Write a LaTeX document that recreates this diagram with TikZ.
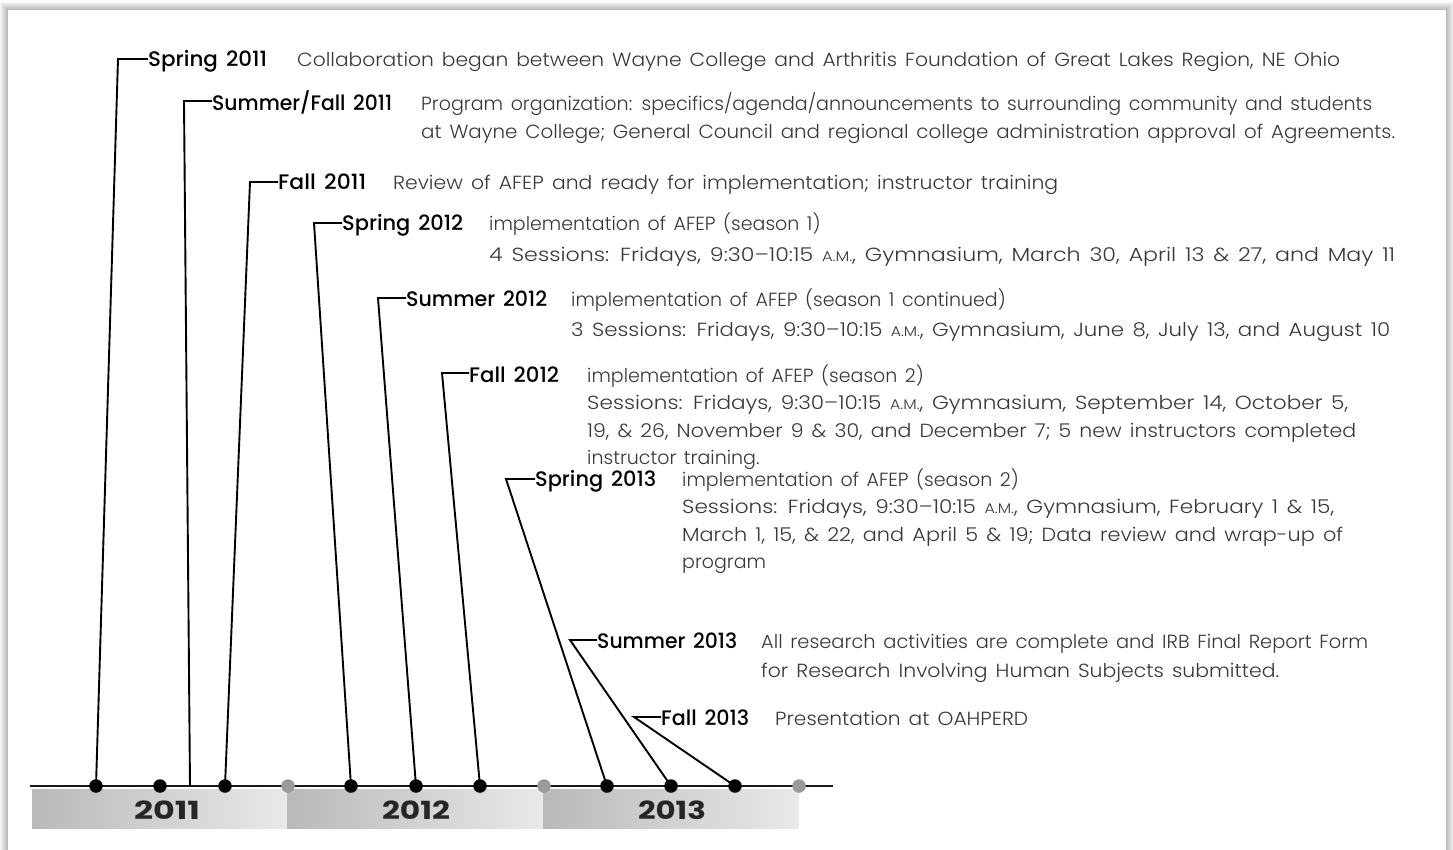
\documentclass[tikz,border=0pt]{standalone}
\usepackage{graphicx}
\usepackage{fontspec}
\setmainfont{Poppins}[UprightFont=* Light, BoldFont=* Medium, WordSpace=1.45, Numbers=Monospaced]
\newfontfamily\yearfamily{Poppins}[UprightFont=* Bold]
\definecolor{txt}{HTML}{383838}
\definecolor{dotgray}{HTML}{9A9A9A}
\definecolor{bandL}{HTML}{B8B9BB}
\definecolor{bandR}{HTML}{E8E9EA}
\newcommand\labfont{\bfseries\fontsize{21}{24}\selectfont}
\newcommand\descfont{\fontsize{19}{28}\selectfont}
\newcommand\am{{\fontsize{14}{14}\selectfont A.M.}}
\newcommand\fit[2]{\resizebox{#1pt}{\height}{#2}}
\begin{document}
\begin{tikzpicture}[x=1pt,y=-1pt,
  lab/.style={anchor=base west, inner sep=0pt, font=\labfont, text=black},
  desc/.style={anchor=base west, inner sep=0pt, font=\descfont, text=txt},
  bdot/.style={circle, fill=black, inner sep=0pt, minimum size=13.5pt},
  gdot/.style={circle, fill=dotgray, inner sep=0pt, minimum size=13.5pt},
  conn/.style={line width=1.9pt, line join=miter, black},
  yearlab/.style={font=\yearfamily\fontsize{25}{28}\selectfont, text=black!85, inner sep=0pt},
  band/.style={left color=bandL, right color=bandR}
]
\useasboundingbox (0,0) rectangle (1453,850);
% shadow frame
\fill[white] (0,0) rectangle (1453,850);
\foreach \i in {1,...,8}{
  \fill[black, opacity=0.035] (8-\i,10-\i) rectangle (1446+\i,870);
}
\fill[white] (8,10) rectangle (1446,870);

% bands
\shade[band] (32,789) rectangle (287,828);
\shade[band] (287,789) rectangle (543,828);
\shade[band] (543,789) rectangle (799,828);
\node[yearlab] (y1) at (167,810) {\fit{66}{2011}};
\node[yearlab] (y2) at (416,810) {\fit{68}{2012}};
\node[yearlab] (y3) at (672,810) {\fit{68}{2013}};

% main line
\coordinate (ls) at (30,786);
\coordinate (le) at (833,786);
\draw[line width=2.4pt, black!90] (ls) -- (le);

% dot positions
\coordinate (p1) at (96,786);
\coordinate (p2) at (160,786);
\coordinate (pSF) at (190,786);
\coordinate (p3) at (225,786);
\coordinate (g1) at (288,786);
\coordinate (p4) at (351,786);
\coordinate (p5) at (416,786);
\coordinate (p6) at (480,786);
\coordinate (g2) at (544,786);
\coordinate (p7) at (607,786);
\coordinate (p8) at (671,786);
\coordinate (p9) at (735,786);
\coordinate (g3) at (799,786);

% corners
\coordinate (c1) at (118,59);
\coordinate (c2) at (184,101);
\coordinate (c3) at (250,182);
\coordinate (c4) at (314,223);
\coordinate (c5) at (378,298);
\coordinate (c6) at (442,373);
\coordinate (c7) at (506,479);
\coordinate (c8) at (570,640);
\coordinate (c9) at (634,717);

% labels and descriptions
\node[lab] (l1) at (148,66.5) {\fit{119}{Spring 2011}};
\node[desc] (t1) at (297,66.5) {\fit{1043}{Collaboration began between Wayne College and Arthritis Foundation of Great Lakes Region, NE Ohio}};

\node[lab] (l2) at (212,110.5) {\fit{180}{Summer/Fall 2011}};
\node[desc] (t2) at (421,110.5) {\begin{tabular}[t]{@{}l@{}}\fit{951}{Program organization: specifics/agenda/announcements to surrounding community and students}\\ \fit{974}{at Wayne College; General Council and regional college administration approval of Agreements.}\end{tabular}};

\node[lab] (l3) at (278,190) {\fit{88}{Fall 2011}};
\node[desc] (t3) at (393,190) {\fit{665}{Review of AFEP and ready for implementation; instructor training}};

\node[lab] (l4) at (342,231) {\fit{121}{Spring 2012}};
\node[desc, font=\fontsize{19}{31}\selectfont] (t4) at (489,231) {\begin{tabular}[t]{@{}l@{}}implementation of AFEP (season 1)\\ \fit{906}{4 Sessions: Fridays, 9:30--10:15 \am, Gymnasium, March 30, April 13 \& 27, and May 11}\end{tabular}};

\node[lab] (l5) at (406,306) {\fit{141}{Summer 2012}};
\node[desc, font=\fontsize{19}{30}\selectfont] (t5) at (571,306) {\begin{tabular}[t]{@{}l@{}}implementation of AFEP (season 1 continued)\\ \fit{819}{3 Sessions: Fridays, 9:30--10:15 \am, Gymnasium, June 8, July 13, and August 10}\end{tabular}};

\node[lab] (l6) at (469,382) {\fit{90}{Fall 2012}};
\node[desc, font=\fontsize{19}{27.5}\selectfont] (t6) at (587,382) {\begin{tabular}[t]{@{}l@{}}implementation of AFEP (season 2)\\ \fit{761}{Sessions: Fridays, 9:30--10:15 \am, Gymnasium, September 14, October 5,}\\ \fit{769}{19, \& 26, November 9 \& 30, and December 7; 5 new instructors completed}\\ instructor training.\end{tabular}};

\node[lab] (l7) at (535,486) {\fit{121}{Spring 2013}};
\node[desc, font=\fontsize{19}{27.5}\selectfont] (t7) at (682,486) {\begin{tabular}[t]{@{}l@{}}implementation of AFEP (season 2)\\ \fit{652}{Sessions: Fridays, 9:30--10:15 \am, Gymnasium, February 1 \& 15,}\\ \fit{661}{March 1, 15, \& 22, and April 5 \& 19; Data review and wrap-up of}\\ program\end{tabular}};

\node[lab] (l8) at (597,648) {\fit{140}{Summer 2013}};
\node[desc, font=\fontsize{19}{29}\selectfont] (t8) at (761,648) {\begin{tabular}[t]{@{}l@{}}\fit{607}{All research activities are complete and IRB Final Report Form}\\ \fit{518}{for Research Involving Human Subjects submitted.}\end{tabular}};

\node[lab] (l9) at (661,725) {\fit{88}{Fall 2013}};
\node[desc] (t9) at (775,725) {\fit{253}{Presentation at OAHPERD}};

% connectors
\draw[conn] (p1) -- (c1) -- (c1 -| l1.west);
\draw[conn] (pSF) -- (c2) -- (c2 -| l2.west);
\draw[conn] (p3) -- (c3) -- (c3 -| l3.west);
\draw[conn] (p4) -- (c4) -- (c4 -| l4.west);
\draw[conn] (p5) -- (c5) -- (c5 -| l5.west);
\draw[conn] (p6) -- (c6) -- (c6 -| l6.west);
\draw[conn] (p7) -- (c7) -- (c7 -| l7.west);
\draw[conn] (p8) -- (c8) -- (c8 -| l8.west);
\draw[conn] (p9) -- (c9) -- (c9 -| l9.west);

% dots
\foreach \p in {p1,p2,p3,p4,p5,p6,p7,p8,p9}{
  \node[bdot] (d\p) at (\p) {};
}
\foreach \p in {g1,g2,g3}{
  \node[gdot] (d\p) at (\p) {};
}
\end{tikzpicture}
\end{document}
